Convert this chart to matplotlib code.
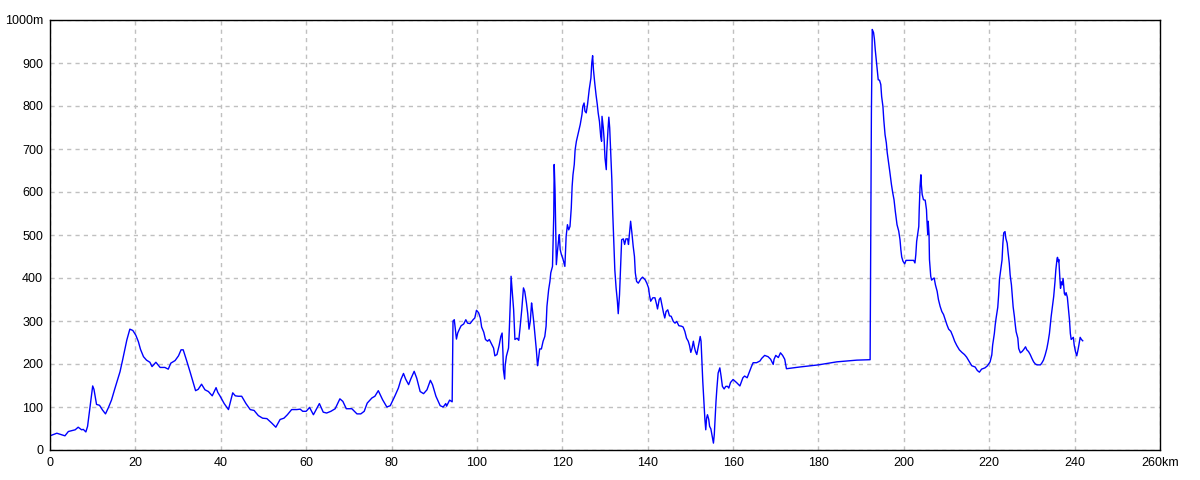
import matplotlib
matplotlib.use("Agg")
import matplotlib.pyplot as plt
import numpy as np

plt.rcParams['font.family'] = ['Liberation Sans', 'DejaVu Sans']

# distance (km) and elevation (m) read from the profile
dist_km = [
    0.0, 1.6, 3.5, 4.3, 5.9, 6.6, 7.4, 7.8, 8.4, 8.8, 9.4, 10.0, 10.3, 10.9, 11.6,
    12.3, 13.0, 13.7, 14.4, 15.2, 16.4, 17.0, 18.0, 18.7, 19.4, 20.1, 20.7, 21.2,
    21.9, 22.6, 23.4, 23.9, 24.8, 25.8, 26.9, 27.7, 28.3, 29.3, 30.1, 30.7, 31.2,
    32.0, 32.8, 33.6, 34.1, 34.7, 35.5, 36.3, 37.1, 38.0, 38.9, 39.3, 39.8,
    40.8, 41.8, 42.8, 43.4, 44.1, 44.9, 45.9, 46.9, 47.8, 48.8, 49.8, 50.8, 51.9,
    52.9, 53.9, 54.8, 55.6, 56.6, 57.8, 58.6, 59.2, 60.0, 60.8, 61.7, 63.1, 64.0,
    64.8, 65.8, 66.8, 67.9, 68.6, 69.4, 70.7, 71.9, 72.8, 73.6, 74.3, 75.4, 76.1,
    76.9, 77.9, 78.9, 79.7, 80.8, 81.6, 82.2, 82.8, 83.3, 84.0, 84.5, 85.3, 85.9,
    86.7, 87.5, 88.3, 89.1, 89.6, 90.4, 91.4, 92.1, 92.7, 92.9, 93.6, 94.2,
    94.4, 94.7, 95.2, 95.5, 95.9, 96.3, 96.9, 97.4, 97.8, 98.4, 99.1, 99.5, 99.9,
    100.4, 100.8, 101.1, 101.6, 102.0, 102.5, 102.9, 103.4, 103.9, 104.2, 104.7,
    105.2, 105.6, 105.9, 106.1, 106.2, 106.5, 106.6, 106.9, 107.4, 107.6, 107.9,
    108.0, 108.3, 108.6, 108.9, 109.4, 109.8, 110.1, 110.5, 110.9, 111.2, 111.6,
    111.9, 112.2, 112.5, 112.8, 113.0, 113.3, 113.7, 113.9, 114.2, 114.4, 114.7,
    115.1, 115.5, 115.9, 116.2, 116.4, 116.8, 117.1, 117.3, 117.7, 118.0, 118.1,
    118.3, 118.4, 118.6, 118.7, 118.9, 119.1, 119.3, 119.5, 119.8, 120.1, 120.4,
    120.6, 120.9, 121.2, 121.5, 121.8, 122.1, 122.3, 122.5, 122.8, 123.0, 123.3,
    123.7, 124.2, 124.6, 124.8, 125.1, 125.3, 125.6, 125.9, 126.3, 126.7, 126.9,
    127.1, 127.3, 127.6, 127.9, 128.2, 128.4, 128.7, 129.0, 129.2, 129.3, 129.6,
    129.8, 130.0, 130.3, 130.4, 130.7, 130.9, 131.1, 131.3, 131.6, 131.8, 132.1,
    132.3, 132.6, 132.9, 133.1, 133.4, 133.7, 133.9, 134.3, 134.6, 134.9, 135.3,
    135.5, 135.8, 136.0, 136.3, 136.6, 136.9, 137.1, 137.4, 137.8, 138.4, 138.8,
    139.4, 139.8, 140.2, 140.4, 140.7, 141.2, 141.7, 142.1, 142.3, 142.7, 143.0,
    143.4, 143.7, 144.0, 144.3, 144.7, 145.1, 145.5, 146.0, 146.4, 146.8, 147.3,
    147.9, 148.3, 148.7, 149.1, 149.5, 149.8, 150.1, 150.4, 150.7, 150.9, 151.2,
    151.5, 151.8, 152.1, 152.3, 152.5, 152.7, 152.9, 153.2, 153.4, 153.6, 153.8,
    154.0, 154.3, 154.5, 154.8, 155.1, 155.4, 155.6, 155.8, 156.0, 156.2, 156.5,
    156.9, 157.2, 157.5, 157.9, 158.3, 158.7, 159.0, 159.4, 160.0, 160.8, 161.6,
    162.3, 162.7, 163.3, 163.8, 164.3, 164.7, 165.5, 166.3, 166.7, 167.4, 168.2,
    168.8, 169.4, 169.6, 170.0, 170.6, 171.1, 171.6, 172.1, 172.5, 175.6, 180.0,
    184.3, 189.0, 192.1, 192.2, 192.4, 192.6, 192.9, 193.1, 193.3, 193.6, 193.8,
    194.0, 194.3, 194.6, 194.8, 195.1, 195.3, 195.6, 195.9, 196.1, 196.4, 196.7,
    196.9, 197.1, 197.4, 197.7, 198.0, 198.2, 198.4, 198.8, 199.1, 199.3, 199.5,
    199.8, 200.2, 200.5, 201.6, 202.3, 202.6, 202.8, 203.0, 203.3, 203.5, 203.6,
    203.8, 204.0, 204.1, 204.3, 204.6, 205.0, 205.3, 205.4, 205.6, 205.7, 205.9,
    206.0, 206.3, 206.5, 206.8, 207.1, 207.4, 207.8, 208.1, 208.5, 208.9, 209.3,
    209.7, 210.1, 210.5, 211.0, 211.5, 211.9, 212.4, 213.0, 213.6, 214.2, 214.7,
    215.3, 215.9, 216.7, 217.2, 217.7, 218.2, 219.0, 219.6, 220.2, 220.6, 220.8,
    221.2, 221.4, 221.6, 222.0, 222.2, 222.4, 222.7, 223.0, 223.2, 223.4, 223.7,
    223.9, 224.2, 224.4, 224.7, 224.9, 225.2, 225.4, 225.6, 225.9, 226.1, 226.3,
    226.7, 226.9, 227.3, 227.7, 228.1, 228.5, 228.8, 229.2, 229.6, 230.0, 230.4,
    230.8, 231.2, 232.0, 232.3, 232.7, 233.1, 233.5, 233.8, 234.1, 234.3, 234.5,
    234.8, 235.1, 235.4, 235.6, 235.9, 236.0, 236.2, 236.3, 236.5, 236.7, 236.9,
    237.1, 237.3, 237.6, 237.8, 238.0, 238.3, 238.5, 238.8, 239.0, 239.2, 239.5,
    239.7, 239.9, 240.2, 240.5, 240.8, 241.0, 241.3, 241.6, 241.9,
]
elev_m = [
    33, 39, 33, 43, 47, 53, 47, 48, 42, 55, 101, 149, 141, 106, 104,
    93, 84, 99, 116, 143, 182, 209, 256, 281, 278, 267, 252, 234,
    217, 209, 204, 194, 204, 192, 192, 188, 202, 208, 219, 233, 233,
    208, 182, 155, 138, 141, 153, 140, 136, 126, 145, 134, 126,
    108, 94, 133, 126, 125, 125, 108, 94, 92, 80, 74, 73, 63,
    53, 71, 74, 82, 94, 94, 95, 90, 90, 99, 82, 108, 88,
    86, 90, 96, 119, 113, 96, 96, 84, 84, 90, 109, 121, 125,
    138, 117, 100, 103, 126, 144, 164, 178, 165, 152, 165, 183, 167,
    136, 131, 140, 162, 152, 125, 103, 100, 108, 102, 116, 112,
    300, 303, 258, 272, 281, 289, 293, 303, 295, 294, 303, 307, 325,
    319, 307, 286, 274, 257, 253, 257, 247, 237, 219, 222,
    243, 264, 272, 225, 187, 165, 195, 218, 237, 284, 365,
    404, 365, 326, 257, 260, 255, 284, 326, 377, 369, 342,
    317, 281, 299, 342, 326, 299, 258, 235, 196, 210, 235,
    235, 253, 264, 288, 334, 373, 392, 412, 427, 547, 664,
    602, 547, 431, 443, 466, 485, 501, 466, 454, 446, 435,
    427, 497, 524, 512, 520, 563, 613, 640, 664, 698, 718,
    735, 757, 780, 799, 807, 788, 784, 803, 838, 865, 900,
    917, 884, 853, 826, 803, 784, 764, 729, 718, 776, 749,
    722, 679, 652, 691, 745, 774, 749, 702, 629, 555, 474,
    419, 377, 346, 317, 361, 435, 489, 491, 478, 491, 491,
    478, 509, 532, 505, 474, 450, 412, 392, 388, 398, 402,
    396, 388, 377, 361, 346, 354, 354, 338, 328, 350, 354,
    334, 319, 307, 322, 326, 312, 311, 299, 295, 299, 289,
    288, 286, 276, 260, 253, 243, 227, 237, 253, 241, 229,
    222, 237, 253, 264, 253, 206, 160, 105, 71, 47, 74,
    82, 71, 55, 49, 32, 16, 36, 74, 113, 142, 179,
    191, 171, 148, 142, 148, 148, 144, 157, 164, 157, 149,
    168, 172, 168, 181, 194, 203, 203, 207, 213, 220, 217,
    211, 199, 211, 220, 215, 226, 220, 211, 189, 193, 198,
    205, 209, 210, 400, 784, 978, 971, 956, 931, 900, 877,
    861, 860, 850, 822, 799, 768, 733, 714, 692, 669, 648,
    633, 617, 598, 582, 555, 540, 524, 509, 489, 466, 449,
    439, 433, 441, 441, 441, 435, 454, 485, 505, 520, 559,
    613, 640, 617, 594, 582, 581, 559, 536, 501, 532, 501,
    443, 404, 395, 398, 400, 384, 369, 350, 334, 322, 315,
    303, 291, 281, 276, 264, 253, 243, 233, 227, 222, 216,
    206, 196, 193, 185, 181, 188, 191, 196, 205, 221, 244,
    271, 291, 306, 332, 360, 397, 420, 442, 481, 505, 508,
    492, 481, 461, 434, 407, 384, 360, 333, 310, 291, 275,
    260, 236, 226, 229, 234, 240, 233, 229, 222, 213, 205,
    200, 198, 198, 202, 209, 221, 236, 252, 271, 291, 310,
    333, 357, 391, 419, 446, 448, 438, 443, 407, 376, 391,
    384, 399, 364, 360, 366, 355, 333, 302, 271, 257, 260,
    262, 244, 229, 219, 233, 244, 262, 257, 254,
]

x_ticks = np.arange(0, 261, 20)
x_labels = [str(v) for v in x_ticks[:-1]] + ["260km"]
y_ticks = np.arange(0, 1001, 100)
y_labels = [str(v) for v in y_ticks[:-1]] + ["1000m"]

fig = plt.figure(figsize=(12, 4.8), dpi=100)
ax = fig.add_axes([50 / 1200, 30 / 480, 1110 / 1200, 430 / 480])

ax.plot(dist_km, elev_m, color="#0000ff", linewidth=1.0)

ax.set_xlim(0, 260)
ax.set_ylim(0, 1000)
ax.set_xticks(x_ticks)
ax.set_xticklabels(x_labels, fontsize=9)
ax.set_yticks(y_ticks)
ax.set_yticklabels(y_labels, fontsize=9)
ax.tick_params(length=0, pad=5)

ax.grid(True, color="#c0c0c0", linestyle=(0, (3, 3)), linewidth=1)
for s in ax.spines.values():
    s.set_color("black")
    s.set_linewidth(1)

fig.savefig("out.png", dpi=100)
